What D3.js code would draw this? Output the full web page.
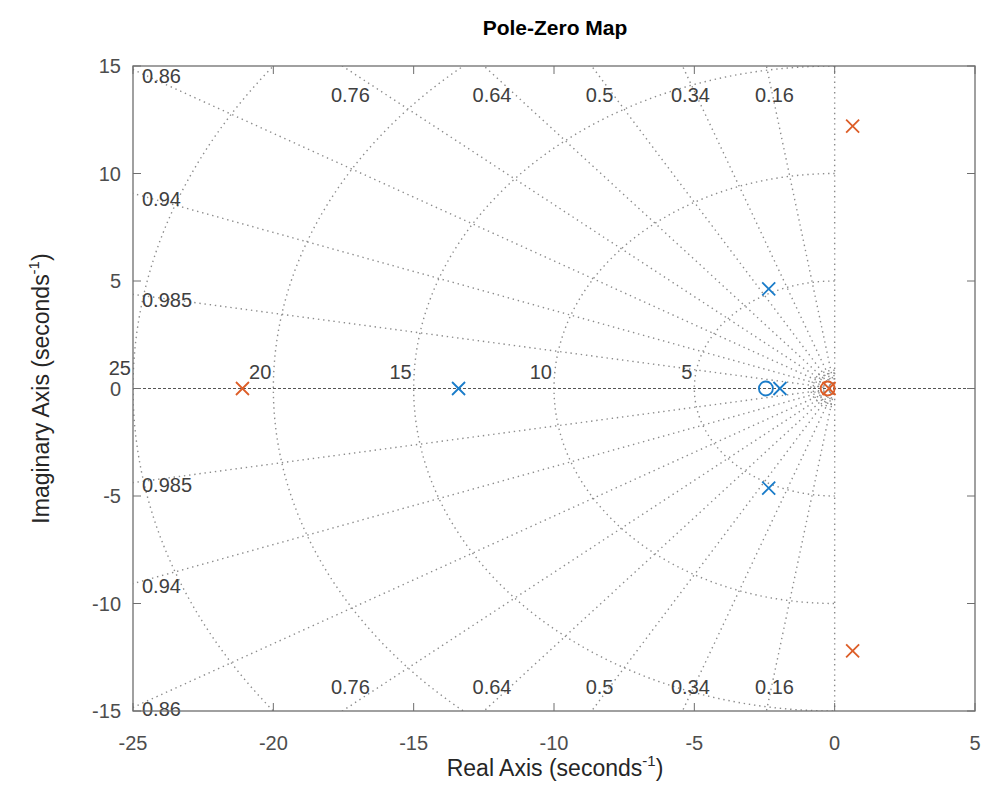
<!DOCTYPE html>
<html>
<head>
<meta charset="utf-8">
<script src="https://cdn.jsdelivr.net/npm/d3@7"></script>
<style>
  html, body { margin: 0; padding: 0; background: #fff; }
  svg { display: block; font-family: "Liberation Sans", Arial, Helvetica, sans-serif; }
</style>
</head>
<body>
<svg id="chart" width="984" height="789"></svg>
<script>
// ---- Data ----
const xTicks = [-25, -20, -15, -10, -5, 0, 5];
const yTicks = [-15, -10, -5, 0, 5, 10, 15];
const zetaValues = [0.16, 0.34, 0.5, 0.64, 0.76, 0.86, 0.94, 0.985];
const wnValues = [5, 10, 15, 20, 25];
const wnSmall = [0.45, 0.6, 0.72, 0.85];
const sys1Poles = [[-13.4, 0], [-2.35, 4.63], [-2.35, -4.63], [-1.95, 0]];
const sys1Zeros = [[-2.45, 0]];
const sys2Poles = [[-21.1, 0], [0.64, 12.2], [0.64, -12.2], [-0.2, 0]];
const sys2Zeros = [[-0.25, 0]];

// ---- Layout ----
const svg = d3.select("#chart");
const L = 133, R = 975, T = 66, B = 711;
const x = d3.scaleLinear().domain([-25, 5]).range([L, R]);
const y = d3.scaleLinear().domain([-15, 15]).range([B, T]);
const blue = "#1a7cc9", orange = "#dd5e28";
const gridColor = "#8c8c8c";
const dots = "1.4 3.8";

svg.append("defs").append("clipPath").attr("id", "clip")
  .append("rect").attr("x", L).attr("y", T).attr("width", R - L).attr("height", B - T);

const grid = svg.append("g").attr("clip-path", "url(#clip)");

// natural frequency semicircles
function arcPoints(r) {
  return d3.range(0, 181).map(i => {
    const a = Math.PI / 2 + i * Math.PI / 180;
    return [r * Math.cos(a), r * Math.sin(a)];
  });
}
const arcLine = d3.line().x(d => x(d[0])).y(d => y(d[1]));
wnValues.concat(wnSmall).forEach(wn => {
  grid.append("path").attr("d", arcLine(arcPoints(wn)))
    .attr("fill", "none").attr("stroke", gridColor).attr("stroke-width", 1.4)
    .attr("stroke-dasharray", dots);
});

// damping rays
zetaValues.forEach(z => {
  const s = Math.sqrt(1 - z * z);
  [1, -1].forEach(sg => {
    grid.append("line")
      .attr("x1", x(0)).attr("y1", y(0))
      .attr("x2", x(-z * 60)).attr("y2", y(sg * s * 60))
      .attr("stroke", gridColor).attr("stroke-width", 1.4)
      .attr("stroke-dasharray", dots);
  });
});

// imaginary axis (x=0) dotted and real axis dashed
grid.append("line").attr("x1", x(0)).attr("x2", x(0)).attr("y1", y(15)).attr("y2", y(-15))
  .attr("stroke", gridColor).attr("stroke-width", 1.4).attr("stroke-dasharray", dots);
grid.append("line").attr("x1", x(-25)).attr("x2", x(5)).attr("y1", y(0)).attr("y2", y(0))
  .attr("stroke", "#555").attr("stroke-width", 1).attr("stroke-dasharray", "3 2");

// zeta labels
const labColor = "#404040";
const labSize = "20px";
zetaValues.forEach(z => {
  const s = Math.sqrt(1 - z * z);
  const xTop = -15 * z / s;
  [1, -1].forEach(sg => {
    let px, py, anchor;
    if (xTop >= -25) {
      px = x(xTop) + 8;
      py = sg > 0 ? T + 29 : B - 24;
      anchor = "middle";
    } else {
      const yy = 25 * s / z;
      px = L + 9;
      py = y(sg * yy) + (sg > 0 ? 6 : 2);
      anchor = "start";
    }
    svg.append("text").attr("x", px).attr("y", py).attr("dy", "0.35em")
      .attr("text-anchor", anchor).attr("font-size", labSize).attr("fill", labColor)
      .text(String(z));
  });
});

// wn labels
wnValues.forEach(wn => {
  svg.append("text").attr("x", x(-wn) - 2).attr("y", y(0) - (wn === 25 ? 21 : 17)).attr("dy", "0.35em")
    .attr("text-anchor", "end").attr("font-size", labSize).attr("fill", labColor)
    .text(String(wn));
});

// ---- Axes ----
const axColor = "#6e6e6e";
const tickColor = "#4d4d4d";
const ax = svg.append("g");
ax.append("rect").attr("x", L).attr("y", T).attr("width", R - L).attr("height", B - T)
  .attr("fill", "none").attr("stroke", axColor).attr("stroke-width", 1.3);
xTicks.forEach(t => {
  ax.append("line").attr("x1", x(t)).attr("x2", x(t)).attr("y1", B).attr("y2", B - 8)
    .attr("stroke", axColor).attr("stroke-width", 1);
  ax.append("line").attr("x1", x(t)).attr("x2", x(t)).attr("y1", T).attr("y2", T + 8)
    .attr("stroke", axColor).attr("stroke-width", 1);
  ax.append("text").attr("x", x(t)).attr("y", B + 32).attr("dy", "0.35em")
    .attr("text-anchor", "middle").attr("font-size", "20px").attr("fill", tickColor).text(t);
});
yTicks.forEach(t => {
  ax.append("line").attr("x1", L).attr("x2", L + 8).attr("y1", y(t)).attr("y2", y(t))
    .attr("stroke", axColor).attr("stroke-width", 1);
  ax.append("line").attr("x1", R).attr("x2", R - 8).attr("y1", y(t)).attr("y2", y(t))
    .attr("stroke", axColor).attr("stroke-width", 1);
  ax.append("text").attr("x", L - 12).attr("y", y(t)).attr("dy", "0.35em")
    .attr("text-anchor", "end").attr("font-size", "20px").attr("fill", tickColor).text(t);
});

// ---- Markers ----
const mk = svg.append("g").attr("clip-path", "url(#clip)");
function drawX(pts, color) {
  const h = 6.5;
  pts.forEach(p => {
    const cx = x(p[0]), cy = y(p[1]);
    mk.append("path").attr("d", `M${cx - h},${cy - h}L${cx + h},${cy + h}M${cx - h},${cy + h}L${cx + h},${cy - h}`)
      .attr("stroke", color).attr("stroke-width", 1.8).attr("fill", "none");
  });
}
function drawO(pts, color) {
  pts.forEach(p => {
    mk.append("circle").attr("cx", x(p[0])).attr("cy", y(p[1])).attr("r", 7)
      .attr("stroke", color).attr("stroke-width", 1.8).attr("fill", "none");
  });
}
drawX(sys1Poles, blue);
drawO(sys1Zeros, blue);
drawX(sys2Poles, orange);
drawO(sys2Zeros, orange);

// ---- Titles ----
svg.append("text").attr("x", 555).attr("y", 28).attr("dy", "0.35em").attr("text-anchor", "middle")
  .attr("font-size", "21px").attr("font-weight", "bold").attr("fill", "#000").text("Pole-Zero Map");

const xl = svg.append("text").attr("x", 555).attr("y", 776).attr("text-anchor", "middle")
  .attr("font-size", "23px").attr("fill", "#262626");
xl.append("tspan").text("Real Axis (seconds");
xl.append("tspan").attr("dy", "-10").attr("font-size", "15px").text("-1");
xl.append("tspan").attr("dy", "10").text(")");

const yl = svg.append("text").attr("transform", `translate(49,${(T + B) / 2}) rotate(-90)`)
  .attr("text-anchor", "middle").attr("font-size", "23px").attr("fill", "#262626");
yl.append("tspan").text("Imaginary Axis (seconds");
yl.append("tspan").attr("dy", "-10").attr("font-size", "15px").text("-1");
yl.append("tspan").attr("dy", "10").text(")");
</script>
</body>
</html>
